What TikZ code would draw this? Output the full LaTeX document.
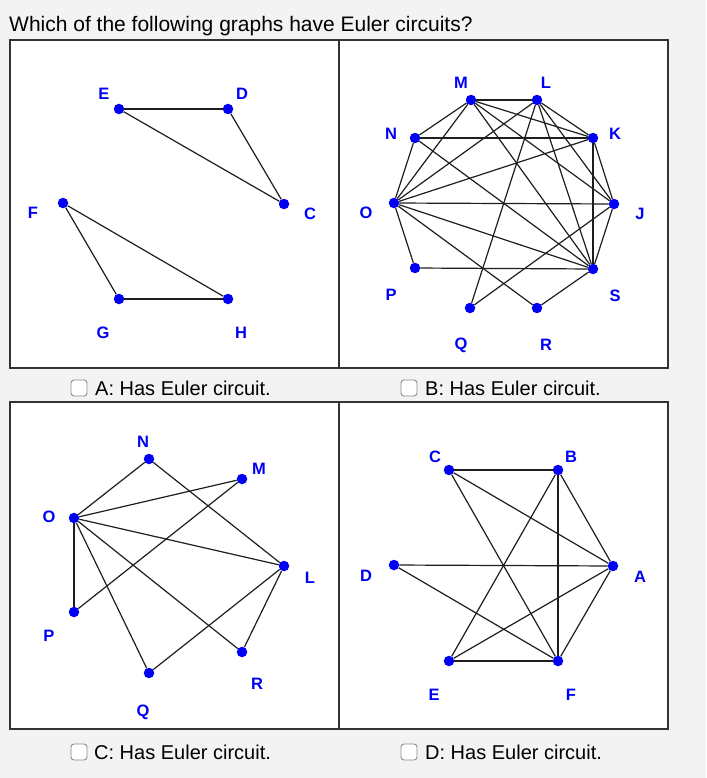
\documentclass[tikz,border=0pt]{standalone}
\usepackage{fontspec}
\setmainfont{Liberation Sans}
\definecolor{bgc}{HTML}{F3F3F3}
\definecolor{edgec}{HTML}{1E1E1E}
\definecolor{vblue}{HTML}{0000F5}
\begin{document}
\begin{tikzpicture}[x=1pt,y=-1pt,
  vtx/.style={circle,fill=vblue,inner sep=0pt,minimum size=10.5pt},
  lbl/.style={text=vblue,font=\fontsize{16.5}{16.5}\selectfont\bfseries,inner sep=0pt},
  edge/.style={draw=edgec,line width=1.2pt},
  panel/.style={draw=black!80,line width=1.6pt,fill=white},
  cbox/.style={draw=black!45,fill=white,rounded corners=3pt,line width=0.9pt},
  ctext/.style={anchor=base west,inner sep=0pt,font=\fontsize{20}{24}\selectfont}]
\useasboundingbox (0,0) rectangle (706,778);
\fill[bgc] (0,0) rectangle (706,778);

\node[anchor=base west,inner sep=0pt,font=\fontsize{21}{25}\selectfont] (title) at (9,31.5) {Which of the following graphs have Euler circuits?};

% panels
\draw[panel] (10,40) rectangle (339,368);
\draw[panel] (339,40) rectangle (668,368);
\draw[panel] (10,402) rectangle (339,729);
\draw[panel] (339,402) rectangle (668,729);

% ---------- Panel A ----------
\node[vtx] (aE) at (119,109) {};
\node[vtx] (aD) at (228,109) {};
\node[vtx] (aC) at (284,204) {};
\node[vtx] (aF) at (63,203) {};
\node[vtx] (aG) at (119,299) {};
\node[vtx] (aH) at (228,299) {};
\node[lbl] (laE) at (104,94) {E};
\node[lbl] (laD) at (242,94) {D};
\node[lbl] (laC) at (310,214) {C};
\node[lbl] (laF) at (33,213) {F};
\node[lbl] (laG) at (103,333) {G};
\node[lbl] (laH) at (241,333) {H};
\foreach \u/\v in {aE/aD,aE/aC,aD/aC,aF/aG,aF/aH,aG/aH}
  \draw[edge] (\u) -- (\v);

% ---------- Panel B ----------
\node[vtx] (bM) at (471,100) {};
\node[vtx] (bL) at (537,100) {};
\node[vtx] (bN) at (415,138) {};
\node[vtx] (bK) at (593,138) {};
\node[vtx] (bO) at (394,203) {};
\node[vtx] (bJ) at (614,204) {};
\node[vtx] (bP) at (415,268) {};
\node[vtx] (bS) at (593,269) {};
\node[vtx] (bQ) at (470,308) {};
\node[vtx] (bR) at (537,308) {};
\node[lbl] (lbM) at (461,83) {M};
\node[lbl] (lbL) at (546,83) {L};
\node[lbl] (lbN) at (391,134) {N};
\node[lbl] (lbK) at (615,134) {K};
\node[lbl] (lbO) at (366,213) {O};
\node[lbl] (lbJ) at (640,214) {J};
\node[lbl] (lbP) at (391,295) {P};
\node[lbl] (lbS) at (615,296) {S};
\node[lbl] (lbQ) at (461,345) {Q};
\node[lbl] (lbR) at (546,345) {R};
\foreach \u/\v in {bM/bL,bM/bN,bM/bO,bM/bK,bM/bJ,bM/bS,
                   bL/bO,bL/bQ,bL/bK,bL/bJ,bL/bS,
                   bN/bK,bN/bO,bN/bS,
                   bK/bO,bK/bJ,bK/bS,
                   bO/bJ,bO/bS,bO/bR,bO/bP,
                   bP/bS,bJ/bS,bJ/bQ,bS/bR}
  \draw[edge] (\u) -- (\v);

% ---------- Panel C ----------
\node[vtx] (cN) at (149,459) {};
\node[vtx] (cM) at (242,479) {};
\node[vtx] (cO) at (74,518) {};
\node[vtx] (cL) at (284,566) {};
\node[vtx] (cP) at (74,612) {};
\node[vtx] (cR) at (242,652) {};
\node[vtx] (cQ) at (149,673) {};
\node[lbl] (lcN) at (143,442) {N};
\node[lbl] (lcM) at (259,469) {M};
\node[lbl] (lcO) at (49,517) {O};
\node[lbl] (lcL) at (310,578) {L};
\node[lbl] (lcP) at (49,636) {P};
\node[lbl] (lcR) at (257,684) {R};
\node[lbl] (lcQ) at (143,712) {Q};
\foreach \u/\v in {cO/cN,cO/cM,cO/cL,cO/cP,cO/cQ,cO/cR,cN/cL,cM/cP,cL/cQ,cL/cR}
  \draw[edge] (\u) -- (\v);

% ---------- Panel D ----------
\node[vtx] (dC) at (449,470) {};
\node[vtx] (dB) at (558,470) {};
\node[vtx] (dD) at (394,565) {};
\node[vtx] (dA) at (613,566) {};
\node[vtx] (dE) at (449,661) {};
\node[vtx] (dF) at (558,661) {};
\node[lbl] (ldC) at (435,457) {C};
\node[lbl] (ldB) at (571,457) {B};
\node[lbl] (ldD) at (366,576) {D};
\node[lbl] (ldA) at (640,577) {A};
\node[lbl] (ldE) at (434,695) {E};
\node[lbl] (ldF) at (571,695) {F};
\foreach \u/\v in {dC/dB,dC/dA,dC/dF,dB/dA,dB/dF,dB/dE,dD/dA,dD/dF,dA/dE,dA/dF,dE/dF}
  \draw[edge] (\u) -- (\v);

% ---------- checkboxes ----------
\draw[cbox] (71,380) rectangle (87,396);
\node[ctext] (tA) at (95,395) {A: Has Euler circuit.};
\draw[cbox] (401,380) rectangle (417,396);
\node[ctext] (tB) at (425,395) {B: Has Euler circuit.};
\draw[cbox] (71,744) rectangle (87,760);
\node[ctext] (tC) at (94,759) {C: Has Euler circuit.};
\draw[cbox] (401,744) rectangle (417,760);
\node[ctext] (tD) at (425,759) {D: Has Euler circuit.};
\end{tikzpicture}
\end{document}
